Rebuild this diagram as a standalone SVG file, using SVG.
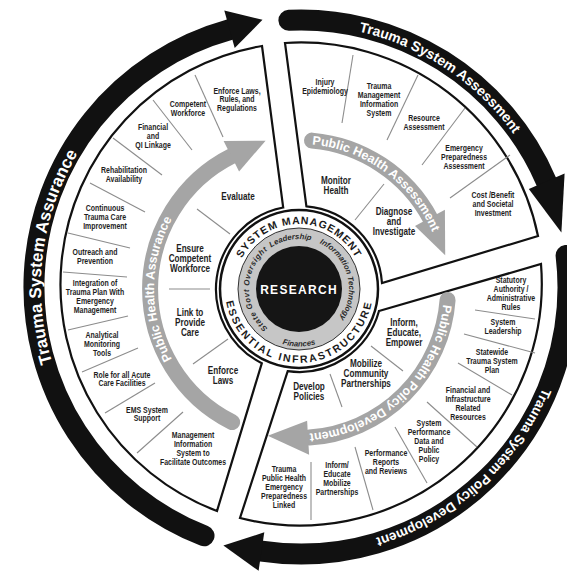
<svg xmlns="http://www.w3.org/2000/svg" width="567" height="573" viewBox="0 0 567 573">
<style>
.seg{fill:#fff;stroke:#111;stroke-width:2.2}
.dv{stroke:#8c8c8c;stroke-width:1.1;fill:none}
.band{fill:none;stroke:#111;stroke-width:21;stroke-linecap:round}
.head{fill:#111}
.garc{fill:none;stroke:#a5a5a5;stroke-width:16;stroke-linecap:round}
.ghead{fill:#a5a5a5}
text{font-family:"Liberation Sans",Arial,sans-serif;font-weight:700}
.s{font-size:8.2px;fill:#1e1e1e;text-anchor:middle}
.m{font-size:10.2px;fill:#1e1e1e;text-anchor:middle}
.bt{font-size:14px;fill:#fff;text-anchor:middle}
.gt{font-size:12.5px;fill:#fff;text-anchor:middle}
.rg{font-size:10.5px;fill:#1a1a1a;text-anchor:middle}
.gr{font-size:7.8px;font-style:italic;fill:#2a2a2a;text-anchor:middle}
</style>
<defs>
<path id="tpTop" d="M248.8 30.3 A262 262 0 0 1 557.7 234.8"/>
<path id="tpRight" d="M562.6 300.7 A262 262 0 0 1 287.3 548.6"/>
<path id="tpLeft" d="M96.1 447.1 A260 260 0 0 1 140.9 82.1"/>
<path id="tpAssur" d="M226.5 414.6 A145 145 0 0 1 226.5 163.4"/>
<path id="tpAssess" d="M263.9 148.3 A145 145 0 0 1 443.7 278.9"/>
<path id="tpPolicy" d="M443.7 278.9 A145 145 0 0 1 283.8 433.2"/>
<path id="tpSys" d="M234.7 283.4 A64.5 64.5 0 0 1 363.3 283.4"/>
<path id="tpEss" d="M225.3 295.5 A74 74 0 0 0 372.7 295.5"/>
<path id="tpLead" d="M252 271.9 A50 50 0 0 1 337.3 256.9"/>
<path id="tpInfo" d="M303.4 239.2 A50 50 0 0 1 327.7 330"/>
<path id="tpState" d="M281.9 336 A50 50 0 0 1 281.9 242"/>
<path id="tpFin" d="M249.2 317.75 A57.5 57.5 0 0 0 348.8 317.75"/>
</defs>

<g id="seg-assurance">
<path class="seg" d="M262 46 L283.2 207.5 A83 83 0 0 0 261.8 363.2 L217 511 A242 242 0 0 1 262 46 Z"/>
<line class="dv" x1="195" y1="75" x2="223" y2="137"/>
<line class="dv" x1="153" y1="100" x2="192" y2="150"/>
<line class="dv" x1="113" y1="138" x2="162" y2="175"/>
<line class="dv" x1="90" y1="183" x2="145" y2="212"/>
<line class="dv" x1="68" y1="233" x2="130" y2="248"/>
<line class="dv" x1="63" y1="272" x2="127" y2="277"/>
<line class="dv" x1="68" y1="330" x2="128" y2="316"/>
<line class="dv" x1="82" y1="372" x2="138" y2="348"/>
<line class="dv" x1="105" y1="413" x2="155" y2="383"/>
<line class="dv" x1="137" y1="453" x2="183" y2="412"/>
<line class="dv" x1="197" y1="209" x2="230" y2="234"/>
<line class="dv" x1="169" y1="289" x2="210" y2="289"/>
<line class="dv" x1="193" y1="364" x2="228" y2="339"/>
<text class="s" transform="matrix(0.85 0 0 1 237 0)"><tspan x="0" y="94">Enforce Laws,</tspan><tspan x="0" y="102.5">Rules, and</tspan><tspan x="0" y="111">Regulations</tspan></text>
<text class="s" transform="matrix(0.85 0 0 1 188 0)"><tspan x="0" y="107">Competent</tspan><tspan x="0" y="116">Workforce</tspan></text>
<text class="s" transform="matrix(0.85 0 0 1 153 0)"><tspan x="0" y="130">Financial</tspan><tspan x="0" y="139">and</tspan><tspan x="0" y="148">QI Linkage</tspan></text>
<text class="s" transform="matrix(0.85 0 0 1 124 0)"><tspan x="0" y="173">Rehabilitation</tspan><tspan x="0" y="182">Availability</tspan></text>
<text class="s" transform="matrix(0.85 0 0 1 105 0)"><tspan x="0" y="211">Continuous</tspan><tspan x="0" y="220">Trauma Care</tspan><tspan x="0" y="229">Improvement</tspan></text>
<text class="s" transform="matrix(0.85 0 0 1 95 0)"><tspan x="0" y="255">Outreach and</tspan><tspan x="0" y="264">Prevention</tspan></text>
<text class="s" transform="matrix(0.85 0 0 1 95 0)"><tspan x="0" y="286">Integration of</tspan><tspan x="0" y="295">Trauma Plan With</tspan><tspan x="0" y="304">Emergency</tspan><tspan x="0" y="313">Management</tspan></text>
<text class="s" transform="matrix(0.85 0 0 1 102 0)"><tspan x="0" y="338">Analytical</tspan><tspan x="0" y="347">Monitoring</tspan><tspan x="0" y="356">Tools</tspan></text>
<text class="s" transform="matrix(0.85 0 0 1 122 0)"><tspan x="0" y="378">Role for all Acute</tspan><tspan x="0" y="386.5">Care Facilities</tspan></text>
<text class="s" transform="matrix(0.85 0 0 1 147 0)"><tspan x="0" y="413">EMS System</tspan><tspan x="0" y="421.5">Support</tspan></text>
<text class="s" transform="matrix(0.85 0 0 1 193 0)"><tspan x="0" y="438">Management</tspan><tspan x="0" y="447">Information</tspan><tspan x="0" y="456">System to</tspan><tspan x="0" y="465">Facilitate Outcomes</tspan></text>
<text class="m" transform="matrix(0.8 0 0 1 238 0)"><tspan x="0" y="199.7">Evaluate</tspan></text>
<text class="m" transform="matrix(0.8 0 0 1 190 0)"><tspan x="0" y="251.7">Ensure</tspan><tspan x="0" y="261.7">Competent</tspan><tspan x="0" y="271.7">Workforce</tspan></text>
<text class="m" transform="matrix(0.8 0 0 1 190 0)"><tspan x="0" y="315.7">Link to</tspan><tspan x="0" y="325.7">Provide</tspan><tspan x="0" y="335.7">Care</tspan></text>
<text class="m" transform="matrix(0.8 0 0 1 223 0)"><tspan x="0" y="373.7">Enforce</tspan><tspan x="0" y="383.7">Laws</tspan></text>
</g>

<g id="seg-assessment">
<path class="seg" d="M285 43 A242 242 0 0 1 538 236 L382 283 A83 83 0 0 0 306.4 206.3 Z"/>
<line class="dv" x1="353" y1="55" x2="342" y2="123"/>
<line class="dv" x1="418" y1="75" x2="387" y2="140"/>
<line class="dv" x1="465" y1="108" x2="422" y2="165"/>
<line class="dv" x1="510" y1="155" x2="450" y2="198"/>
<line class="dv" x1="355" y1="220" x2="384" y2="184"/>
<text class="s" transform="matrix(0.85 0 0 1 325 0)"><tspan x="0" y="85">Injury</tspan><tspan x="0" y="94">Epidemiology</tspan></text>
<text class="s" transform="matrix(0.85 0 0 1 379 0)"><tspan x="0" y="89">Trauma</tspan><tspan x="0" y="98">Management</tspan><tspan x="0" y="107">Information</tspan><tspan x="0" y="116">System</tspan></text>
<text class="s" transform="matrix(0.85 0 0 1 424 0)"><tspan x="0" y="121">Resource</tspan><tspan x="0" y="130">Assessment</tspan></text>
<text class="s" transform="matrix(0.85 0 0 1 464 0)"><tspan x="0" y="151">Emergency</tspan><tspan x="0" y="160">Preparedness</tspan><tspan x="0" y="169">Assessment</tspan></text>
<text class="s" transform="matrix(0.85 0 0 1 493 0)"><tspan x="0" y="198">Cost /Benefit</tspan><tspan x="0" y="207">and Societal</tspan><tspan x="0" y="216">Investment</tspan></text>
<text class="m" transform="matrix(0.8 0 0 1 336 0)"><tspan x="0" y="183.7">Monitor</tspan><tspan x="0" y="193.7">Health</tspan></text>
<text class="m" transform="matrix(0.8 0 0 1 394 0)"><tspan x="0" y="214.7">Diagnose</tspan><tspan x="0" y="224.7">and</tspan><tspan x="0" y="234.7">Investigate</tspan></text>
</g>

<g id="seg-policy">
<path class="seg" d="M379 311 L541 264 A242 242 0 0 1 240 518 L287.7 371.2 A83 83 0 0 0 379 311 Z"/>
<line class="dv" x1="475" y1="310" x2="535" y2="319"/>
<line class="dv" x1="464" y1="334" x2="535" y2="353"/>
<line class="dv" x1="458" y1="363" x2="512" y2="395"/>
<line class="dv" x1="427" y1="402" x2="477" y2="447"/>
<line class="dv" x1="395" y1="427" x2="427" y2="483"/>
<line class="dv" x1="355" y1="447" x2="373" y2="510"/>
<line class="dv" x1="311" y1="462" x2="311" y2="520"/>
<line class="dv" x1="371" y1="346" x2="403" y2="371"/>
<line class="dv" x1="330" y1="374" x2="342" y2="407"/>
<text class="s" transform="matrix(0.85 0 0 1 511 0)"><tspan x="0" y="283">Statutory</tspan><tspan x="0" y="292">Authority /</tspan><tspan x="0" y="301">Administrative</tspan><tspan x="0" y="310">Rules</tspan></text>
<text class="s" transform="matrix(0.85 0 0 1 503 0)"><tspan x="0" y="325">System</tspan><tspan x="0" y="334">Leadership</tspan></text>
<text class="s" transform="matrix(0.85 0 0 1 492 0)"><tspan x="0" y="355">Statewide</tspan><tspan x="0" y="364">Trauma System</tspan><tspan x="0" y="373">Plan</tspan></text>
<text class="s" transform="matrix(0.85 0 0 1 468 0)"><tspan x="0" y="393">Financial and</tspan><tspan x="0" y="402">Infrastructure</tspan><tspan x="0" y="411">Related</tspan><tspan x="0" y="420">Resources</tspan></text>
<text class="s" transform="matrix(0.85 0 0 1 429 0)"><tspan x="0" y="426">System</tspan><tspan x="0" y="435">Performance</tspan><tspan x="0" y="444">Data and</tspan><tspan x="0" y="453">Public</tspan><tspan x="0" y="462">Policy</tspan></text>
<text class="s" transform="matrix(0.85 0 0 1 386 0)"><tspan x="0" y="456">Performance</tspan><tspan x="0" y="465">Reports</tspan><tspan x="0" y="474">and Reviews</tspan></text>
<text class="s" transform="matrix(0.85 0 0 1 337 0)"><tspan x="0" y="468">Inform/</tspan><tspan x="0" y="477">Educate</tspan><tspan x="0" y="486">Mobilize</tspan><tspan x="0" y="495">Partnerships</tspan></text>
<text class="s" transform="matrix(0.85 0 0 1 284 0)"><tspan x="0" y="472">Trauma</tspan><tspan x="0" y="481">Public Health</tspan><tspan x="0" y="490">Emergency</tspan><tspan x="0" y="499">Preparedness</tspan><tspan x="0" y="508">Linked</tspan></text>
<text class="m" transform="matrix(0.8 0 0 1 404 0)"><tspan x="0" y="325.7">Inform,</tspan><tspan x="0" y="335.7">Educate,</tspan><tspan x="0" y="345.7">Empower</tspan></text>
<text class="m" transform="matrix(0.8 0 0 1 366 0)"><tspan x="0" y="366.7">Mobilize</tspan><tspan x="0" y="376.7">Community</tspan><tspan x="0" y="386.7">Partnerships</tspan></text>
<text class="m" transform="matrix(0.8 0 0 1 309 0)"><tspan x="0" y="389.7">Develop</tspan><tspan x="0" y="399.7">Policies</tspan></text>
</g>

<g id="connectors">
<path class="band" d="M204 535.8 A267 267 0 0 1 229.7 29.7"/>
<polygon class="head" points="234.7,48 224.3,10.4 262.5,19.8"/>
<path class="band" d="M288.9 20.3 A267 267 0 0 1 546.2 181.4"/>
<polygon class="head" points="528.8,188.9 564.6,173.5 561.4,232.6"/>
<path class="band" d="M566.1 255.4 A267 267 0 0 1 261.5 551.1"/>
<polygon class="head" points="264.3,532.3 258.6,570.8 223.4,545.6"/>
<path class="garc" d="M232.1 422.1 A149 149 0 0 1 232.5 155.7"/>
<polygon class="ghead" points="239.1,171.4 223.6,141.1 265.6,140.7"/>
<path class="garc" d="M312 140.6 A149 149 0 0 1 430.6 219"/>
<polygon class="ghead" points="415,226 444.9,209.8 445.2,255.3"/>
<path class="garc" d="M447.6 299.9 A149 149 0 0 1 309.4 437.6"/>
<polygon class="ghead" points="307.1,420.8 309.1,454.7 267.8,435.7"/>
<text class="bt"><textPath href="#tpTop" startOffset="50%">Trauma System Assessment</textPath></text>
<text class="bt" style="font-size:13.5px"><textPath href="#tpRight" startOffset="50%">Trauma System Policy Development</textPath></text>
<text class="bt" style="font-size:17px"><textPath href="#tpLeft" startOffset="50%">Trauma System Assurance</textPath></text>
<text class="gt"><textPath href="#tpAssur" startOffset="50%">Public Health Assurance</textPath></text>
<text class="gt"><textPath href="#tpAssess" startOffset="50%">Public Health Assessment</textPath></text>
<text class="gt"><textPath href="#tpPolicy" startOffset="50%">Public Health Policy Development</textPath></text>
</g>

<g id="core">
<circle cx="299" cy="289" r="79" fill="#fff" stroke="#111" stroke-width="2.5"/>
<circle cx="299" cy="289" r="61" fill="#c6c6c6" stroke="#333" stroke-width="1"/>
<circle cx="299" cy="289" r="43" fill="#151515"/>
<text class="rg" style="letter-spacing:1px"><textPath href="#tpSys" startOffset="50%">SYSTEM MANAGEMENT</textPath></text>
<text class="rg" style="letter-spacing:2px"><textPath href="#tpEss" startOffset="50%">ESSENTIAL INFRASTRUCTURE</textPath></text>
<text class="gr"><textPath href="#tpLead" startOffset="50%">Leadership</textPath></text>
<text class="gr"><textPath href="#tpInfo" startOffset="50%">Information Technology</textPath></text>
<text class="gr" style="letter-spacing:0.6px"><textPath href="#tpState" startOffset="50%">State Govt Oversight</textPath></text>
<text class="gr"><textPath href="#tpFin" startOffset="50%">Finances</textPath></text>
<text x="299" y="293.5" style="font-size:12px;fill:#fff;letter-spacing:1.3px;text-anchor:middle">RESEARCH</text>
</g>
</svg>
